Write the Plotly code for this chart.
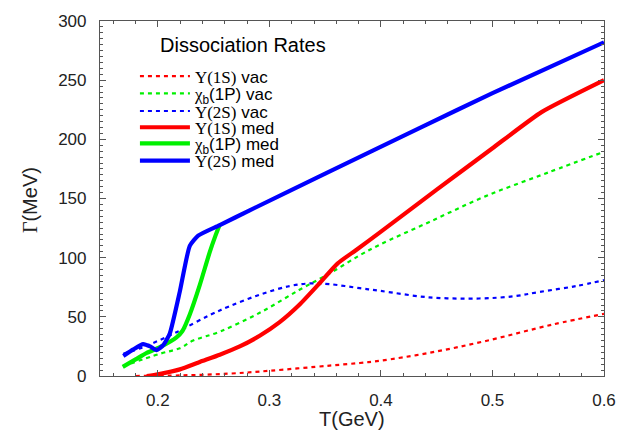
import plotly.graph_objects as go

# ---------------- data ----------------
T_1S_med = [0.190, 0.200, 0.2197, 0.2376, 0.2555, 0.2734, 0.2913, 0.3092, 0.3271, 0.345,
            0.361, 0.3778, 0.400, 0.450, 0.500, 0.544, 0.600]
G_1S_med = [0.0, 1.5, 5.6, 11.9, 18.0, 25.0, 34.0, 45.5, 60.4, 78.4,
            95.0, 106.5, 122.0, 157.5, 192.5, 223.0, 250.0]

T_2S_med = [0.169, 0.178, 0.1868, 0.193, 0.1988, 0.2048, 0.2107, 0.2197, 0.2286, 0.2361,
            0.2555, 0.2823, 0.350, 0.4345, 0.500, 0.600]
G_2S_med = [17.0, 22.5, 27.0, 25.0, 21.8, 26.0, 36.0, 71.5, 110.0, 118.6,
            127.5, 140.0, 171.0, 209.5, 239.0, 282.0]

T_1P_med = [0.1685, 0.180, 0.190, 0.2018, 0.2167, 0.222, 0.2286, 0.2376, 0.2465, 0.2514, 0.2555]
G_1P_med = [7.7, 14.0, 19.5, 24.4, 32.7, 38.0, 52.0, 77.0, 104.7, 118.0, 128.0]

T_1S_vac = [0.180, 0.220, 0.264, 0.300, 0.354, 0.381, 0.400, 0.443, 0.494, 0.554, 0.600]
G_1S_vac = [0.0, 0.5, 2.0, 4.4, 8.8, 11.0, 13.0, 19.5, 29.6, 43.5, 52.5]

T_1P_vac = [0.169, 0.2018, 0.2197, 0.2316, 0.2555, 0.2913, 0.327, 0.354, 0.381, 0.399,
            0.443, 0.494, 0.550, 0.600]
G_1P_vac = [8.3, 18.8, 23.5, 29.9, 37.5, 53.4, 72.9, 86.7, 102.0, 111.0,
            130.0, 152.0, 172.0, 189.5]

T_2S_vac = [0.169, 0.1868, 0.2167, 0.2465, 0.2644, 0.2913, 0.318, 0.336, 0.354, 0.381,
            0.399, 0.443, 0.488, 0.520, 0.542, 0.575, 0.600]
G_2S_vac = [18.8, 24.4, 37.0, 51.5, 59.0, 68.7, 76.0, 78.2, 77.6, 74.2,
            72.0, 66.5, 65.5, 67.5, 71.0, 76.0, 81.0]

X_TICKS = [0.2, 0.3, 0.4, 0.5, 0.6]
X_TICKTEXT = ["0.2", "0.3", "0.4", "0.5", "0.6"]
Y_TICKS = [0, 50, 100, 150, 200, 250, 300]

SERIF = "Liberation Serif, DejaVu Serif, serif"
def ups(s):
    return "<span style=\"font-family:%s\">%s</span>" % (SERIF, s)

NAMES = [
    ups("Υ(1S)") + " vac",
    ups("χ") + "<sub>b</sub>(1P) vac",
    ups("Υ(2S)") + " vac",
    ups("Υ(1S)") + " med",
    ups("χ") + "<sub>b</sub>(1P) med",
    ups("Υ(2S)") + " med",
]

RED, GREEN, BLUE = "#ff0000", "#00f000", "#0000ff"
DOT = "4px,4px"

series = [
    (T_1S_vac, G_1S_vac, RED, DOT, 2.2, 1.0),
    (T_1P_vac, G_1P_vac, GREEN, DOT, 2.2, 1.0),
    (T_2S_vac, G_2S_vac, BLUE, DOT, 2.2, 1.0),
    (T_1S_med, G_1S_med, RED, "solid", 4.2, 0.5),
    (T_1P_med, G_1P_med, GREEN, "solid", 4.2, 0.6),
    (T_2S_med, G_2S_med, BLUE, "solid", 4.2, 0.5),
]

# plot area geometry (pixels) for placing text
W, H = 628, 432
ML, MR, MT, MB = 100, 23, 15, 56
PW, PH = W - ML - MR, H - MT - MB
def px(x):
    return (x - ML) / PW
def py(y):
    return (H - MB - y) / PH

fig = go.Figure()
legend_rows = [71.5, 89, 107, 123.5, 140, 157.5]
for i in range(6):
    t, g, c, d, w, sm = series[i]
    lg = "legend" if i == 0 else "legend%d" % (i + 1)
    fig.add_trace(go.Scatter(x=t, y=g, mode="lines", name=NAMES[i],
                             line=dict(color=c, dash=d, width=w, shape="spline", smoothing=sm),
                             legend=lg, showlegend=True))

legend_common = dict(bgcolor="rgba(0,0,0,0)", borderwidth=0, xanchor="left",
                     yanchor="middle", itemwidth=50,
                     font=dict(family="Liberation Sans, Arial, sans-serif", size=17, color="#000"),
                     itemclick=False, itemdoubleclick=False)
layout_legends = {}
for i, yrow in enumerate(legend_rows):
    key = "legend" if i == 0 else "legend%d" % (i + 1)
    layout_legends[key] = dict(legend_common, x=px(135), y=py(yrow))

axis_common = dict(showline=True, linecolor="#555", linewidth=1.2, mirror="ticks",
                   ticks="inside", ticklen=6, tickcolor="#555", tickwidth=1,
                   showgrid=False, zeroline=False,
                   tickfont=dict(family="Liberation Sans, Arial, sans-serif", size=17, color="#222"))

fig.update_layout(
    width=W, height=H,
    margin=dict(l=ML, r=MR, t=MT, b=MB, pad=0),
    paper_bgcolor="white", plot_bgcolor="white",
    showlegend=True,
    xaxis=dict(axis_common, range=[0.1481, 0.6], tickvals=X_TICKS, ticktext=X_TICKTEXT,
               minor=dict(dtick=0.02, tick0=0.2, ticks="inside", ticklen=3, tickcolor="#555"),
               ticklabelstandoff=8),
    yaxis=dict(axis_common, range=[0, 300], tickvals=Y_TICKS,
               minor=dict(dtick=5, tick0=0, ticks="inside", ticklen=3, tickcolor="#555"),
               ticklabelstandoff=9),
    **layout_legends,
    annotations=[
        dict(text="Dissociation Rates", x=px(243), y=py(39), xref="paper", yref="paper",
             showarrow=False, xanchor="center", yanchor="middle",
             font=dict(family="Liberation Sans, Arial, sans-serif", size=20, color="#000")),
        dict(text="T(GeV)", x=px(352), y=py(420), xref="paper", yref="paper",
             showarrow=False, xanchor="center", yanchor="middle",
             font=dict(family="Liberation Sans, Arial, sans-serif", size=20, color="#222")),
        dict(text=ups("Γ") + "(MeV)", x=px(30), y=py(197), xref="paper", yref="paper",
             showarrow=False, xanchor="center", yanchor="middle", textangle=-90,
             font=dict(family="Liberation Sans, Arial, sans-serif", size=20, color="#222")),
        dict(text="n", x=px(-6), y=py(132), xref="paper", yref="paper",
             showarrow=False, xanchor="right", yanchor="middle",
             font=dict(family="Liberation Sans, Arial, sans-serif", size=56, color="#c00000")),
    ],
)

fig.write_html("out.html")
